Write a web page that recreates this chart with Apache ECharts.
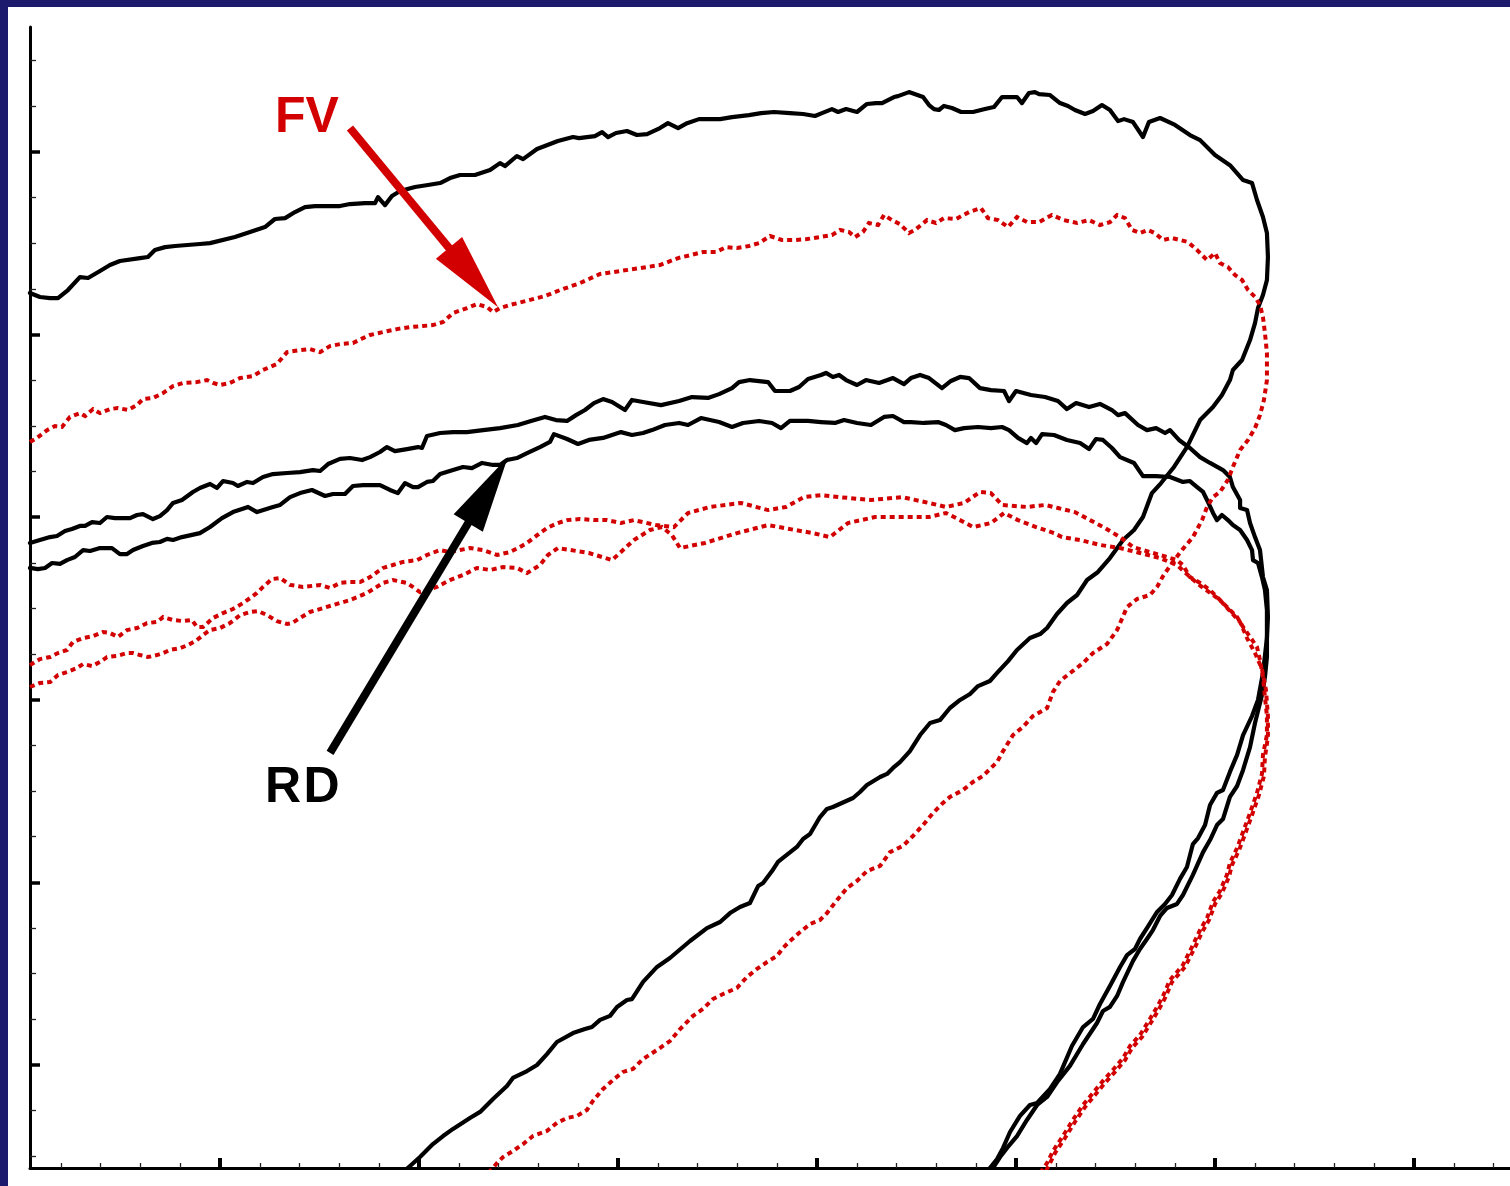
<!DOCTYPE html>
<html>
<head>
<meta charset="utf-8">
<script src="https://cdn.jsdelivr.net/npm/echarts@6/dist/echarts.min.js"></script>
<style>
  html, body { margin: 0; padding: 0; width: 1510px; height: 1186px; background: #1b1a6c; overflow: hidden; }
  #chart { position: absolute; left: 8px; top: 7px; width: 1540px; height: 1179px; background: #ffffff; }
</style>
</head>
<body>
<div id="chart"></div>
<script>
// ---- axis ticks (no labels in the original) ----
const xMajorTicks = [10, 20, 30, 40, 50, 60, 70];
const xMinorTicks = [2, 4, 6, 8, 12, 14, 16, 18, 22, 24, 26, 28, 32, 34, 36, 38, 42, 44, 46, 48, 52, 54, 56, 58, 62, 64, 66, 68, 72, 74];
const yMajorTicks = [10, 20, 30, 40, 50, 60];
const yMinorTicks = [5, 7.5, 12.5, 15, 17.5, 22.5, 25, 27.5, 32.5, 35, 37.5, 42.5, 45, 47.5, 52.5, 55, 57.5, 62.5, 65];
const xRange = [0.4523, 75.829];
const yRange = [4.359, 66.845];

// ---- RD (black, solid) curves ----
const rdOuter = [[0.45,52.28],[0.95,52.06],[1.46,52.00],[1.86,52.00],[2.36,52.44],[2.96,53.15],[3.37,53.10],[3.97,53.48],[4.47,53.81],[4.97,54.03],[5.98,54.19],[6.38,54.25],[6.73,54.63],[7.24,54.79],[7.74,54.85],[8.99,54.96],[9.50,55.01],[10.75,55.34],[11.51,55.62],[12.26,55.89],[12.76,56.33],[13.27,56.38],[13.77,56.71],[14.27,56.98],[14.77,57.04],[15.53,57.04],[16.03,57.04],[16.53,57.15],[17.29,57.20],[17.79,57.20],[17.94,57.53],[18.29,57.09],[18.64,57.59],[19.05,57.86],[19.80,58.08],[20.45,58.19],[21.06,58.30],[21.56,58.57],[22.06,58.74],[22.81,58.74],[23.57,59.01],[24.07,59.39],[24.32,59.23],[24.92,59.78],[25.23,59.61],[25.93,60.16],[26.98,60.60],[27.74,60.82],[28.04,60.76],[28.84,60.87],[29.20,61.09],[29.50,60.82],[29.90,61.04],[30.45,61.15],[30.95,60.93],[31.46,60.98],[32.11,61.31],[32.51,61.58],[33.02,61.31],[33.47,61.58],[34.07,61.80],[35.13,61.80],[35.73,61.91],[36.58,62.02],[37.19,62.13],[37.84,62.19],[38.64,62.13],[39.30,62.08],[39.90,61.97],[40.25,62.13],[40.75,62.35],[41.06,62.19],[41.46,62.35],[42.01,62.19],[42.51,62.63],[42.96,62.68],[43.27,62.68],[43.87,63.01],[44.07,63.06],[44.62,63.28],[45.33,63.01],[45.63,62.57],[45.88,62.35],[46.13,62.30],[46.38,62.52],[46.78,62.41],[47.24,62.19],[47.84,62.19],[48.44,62.35],[48.89,62.46],[49.30,63.01],[50.05,63.01],[50.30,62.68],[50.65,63.23],[50.95,63.28],[51.16,63.17],[51.71,63.12],[52.21,62.68],[52.61,62.52],[52.96,62.30],[53.47,62.08],[53.87,62.24],[54.32,62.57],[54.72,62.30],[55.13,61.69],[55.43,61.80],[55.88,61.64],[56.38,60.82],[56.68,61.64],[57.24,61.86],[57.99,61.48],[58.74,60.93],[59.25,60.65],[60.00,59.83],[60.75,59.28],[61.41,58.46],[61.86,58.30],[62.11,57.37],[62.41,56.44],[62.61,55.56],[62.66,54.25],[62.61,52.99],[62.41,52.17],[62.16,51.45],[62.01,50.63],[61.76,49.70],[61.36,48.61],[60.90,48.06],[60.75,47.51],[60.35,46.69],[59.90,46.03],[59.25,45.32],[58.59,43.84],[57.94,42.75],[57.29,41.87],[56.83,41.32],[56.38,40.01],[55.93,39.30],[55.38,38.75],[54.72,37.76],[54.12,37.00],[53.57,36.56],[53.07,35.74],[52.56,35.30],[52.06,34.70],[51.56,33.93],[51.21,33.60],[50.70,33.38],[50.05,32.73],[49.60,32.12],[49.05,31.47],[48.69,31.03],[48.09,30.75],[47.69,30.32],[47.19,29.99],[46.68,29.55],[46.18,28.89],[45.68,28.73],[45.18,28.07],[44.67,27.19],[44.17,26.59],[43.82,26.27],[43.52,25.94],[43.17,25.77],[42.51,25.33],[42.16,24.95],[41.81,24.62],[40.80,24.13],[40.50,24.02],[40.15,23.58],[39.65,22.65],[39.30,22.38],[38.99,21.94],[38.29,21.34],[38.04,21.12],[37.74,20.62],[37.29,19.97],[37.04,19.80],[36.63,18.87],[36.13,18.65],[35.63,18.32],[35.13,17.83],[34.47,17.50],[33.62,16.79],[32.61,15.86],[31.96,15.37],[31.26,14.55],[30.70,13.61],[30.45,13.56],[29.95,13.18],[29.60,12.69],[29.10,12.47],[28.69,12.08],[28.34,11.97],[27.74,11.75],[26.93,11.26],[26.43,10.60],[25.93,10.00],[25.43,9.67],[24.72,9.29],[24.42,8.85],[23.72,8.14],[23.07,7.43],[22.56,7.10],[21.71,6.50],[21.21,6.11],[20.70,5.67],[20.05,4.96],[19.55,4.47],[19.20,4.14]];

const rdMidUpper = [[0.45,38.59],[0.95,38.75],[1.46,38.91],[1.81,38.97],[2.21,39.24],[2.56,39.35],[2.96,39.52],[3.22,39.52],[3.57,39.73],[3.97,39.68],[4.32,40.01],[4.72,39.95],[5.48,39.95],[5.83,40.12],[6.13,40.17],[6.63,39.90],[6.98,40.06],[7.34,40.39],[7.64,40.78],[8.09,40.94],[8.64,41.38],[8.99,41.60],[9.50,41.82],[9.85,41.60],[10.15,41.98],[10.65,41.87],[10.90,41.71],[11.36,41.93],[11.66,41.87],[12.16,42.20],[12.66,42.36],[13.37,42.42],[14.02,42.47],[14.67,42.58],[15.03,42.53],[15.43,42.91],[16.03,43.19],[16.53,43.24],[17.14,43.13],[17.54,43.29],[18.04,43.57],[18.39,43.84],[18.79,43.62],[19.40,43.73],[19.95,43.84],[20.15,43.79],[20.40,44.45],[21.06,44.61],[21.71,44.66],[22.41,44.66],[23.22,44.77],[24.07,44.88],[24.97,45.05],[25.63,45.27],[26.33,45.49],[26.88,45.32],[27.44,45.27],[27.89,45.59],[28.34,45.87],[28.79,46.25],[29.25,46.47],[29.70,46.31],[30.35,45.87],[30.70,46.42],[31.26,46.31],[32.16,46.14],[33.07,46.36],[33.72,46.58],[34.52,46.53],[35.08,46.74],[35.73,47.07],[36.08,47.40],[36.63,47.51],[37.54,47.40],[37.89,46.91],[38.64,46.91],[39.10,47.13],[39.55,47.57],[40.20,47.79],[40.45,47.90],[40.80,47.68],[41.11,47.79],[41.46,47.51],[42.01,47.24],[42.46,47.51],[43.12,47.35],[43.82,47.62],[44.37,47.29],[44.72,47.62],[45.18,47.79],[45.63,47.62],[46.28,47.07],[46.73,47.46],[47.19,47.68],[47.64,47.62],[48.19,47.07],[48.74,46.96],[49.40,46.91],[49.65,46.36],[50.00,46.91],[50.75,46.69],[51.46,46.58],[52.11,46.36],[52.56,45.92],[53.02,46.25],[53.67,46.03],[54.22,46.20],[54.82,45.87],[55.13,45.59],[55.48,45.70],[56.13,45.05],[56.58,44.77],[57.04,44.88],[57.49,44.61],[57.74,44.77],[58.19,44.23],[58.74,43.79],[59.25,43.29],[59.75,42.97],[60.40,42.58],[60.75,42.20],[60.90,41.65],[61.26,40.94],[61.26,40.50],[61.61,40.39],[61.76,39.68],[62.01,38.91],[62.26,38.20],[62.41,36.72],[62.61,36.01],[62.66,34.53],[62.61,33.38],[62.41,31.47],[62.16,29.99],[61.86,29.11],[61.41,28.07],[61.11,26.98],[60.75,26.05],[60.40,25.06],[60.10,24.90],[59.75,24.24],[59.50,23.14],[59.15,22.43],[58.89,22.10],[58.59,20.84],[58.24,20.19],[57.84,19.31],[57.49,18.82],[57.09,18.38],[56.58,17.50],[56.23,16.90],[55.98,16.35],[55.58,16.02],[55.23,15.37],[54.72,14.33],[54.22,13.34],[53.87,12.52],[53.37,12.08],[52.81,11.04],[52.21,9.51],[51.71,8.69],[51.06,7.92],[50.70,7.81],[50.20,7.21],[49.70,6.33],[49.35,5.46],[49.05,4.85],[48.69,4.36],[48.49,4.09]];

const rdMidLower = [[0.45,37.22],[0.85,37.16],[1.21,37.22],[1.56,37.49],[1.96,37.44],[2.31,37.65],[2.71,37.82],[3.12,38.20],[3.47,38.15],[3.97,38.31],[4.57,38.31],[4.97,37.98],[5.33,37.98],[5.63,38.20],[6.13,38.42],[6.58,38.59],[6.98,38.64],[7.34,38.81],[7.64,38.75],[8.09,38.91],[8.99,39.13],[9.50,39.46],[10.10,39.95],[10.65,40.28],[11.41,40.56],[11.86,40.28],[12.66,40.56],[13.02,40.67],[13.52,41.10],[14.02,41.32],[14.62,41.49],[15.28,41.16],[15.68,41.27],[16.28,41.27],[16.68,41.71],[17.19,41.76],[18.04,41.76],[18.54,41.49],[18.94,41.32],[19.30,41.87],[19.70,41.65],[19.95,41.65],[20.40,41.93],[20.70,41.98],[21.06,42.36],[21.71,42.58],[22.21,42.75],[22.66,42.69],[23.17,42.97],[23.72,42.86],[24.07,42.86],[24.42,43.13],[24.92,43.24],[25.43,43.51],[26.08,43.84],[26.58,44.12],[26.78,44.55],[27.44,44.28],[27.99,44.01],[28.54,44.23],[29.25,44.34],[29.70,44.50],[30.15,44.66],[30.70,44.50],[31.26,44.61],[31.71,44.77],[32.36,45.05],[33.07,45.16],[33.52,45.05],[34.17,45.43],[35.08,45.21],[35.73,44.94],[36.28,45.16],[37.09,45.27],[37.74,45.16],[38.19,44.88],[38.64,45.27],[39.55,45.27],[40.20,45.21],[40.90,45.16],[41.36,45.32],[42.01,45.16],[42.71,45.05],[43.37,45.49],[43.82,45.54],[44.37,45.21],[44.72,45.21],[45.38,45.16],[46.08,45.21],[46.48,45.05],[46.93,44.77],[47.39,44.88],[48.09,44.94],[48.74,44.88],[49.30,44.94],[49.65,44.77],[50.10,44.34],[50.55,44.06],[50.75,44.34],[51.01,44.06],[51.31,44.55],[51.91,44.50],[52.56,44.23],[53.22,44.06],[53.67,43.73],[54.02,44.28],[54.37,44.23],[54.82,43.79],[55.23,43.29],[55.93,42.97],[56.38,42.25],[57.04,42.25],[57.74,42.20],[58.39,41.93],[58.74,41.98],[59.10,41.65],[59.40,41.38],[59.65,40.83],[59.90,40.23],[60.10,39.84],[60.35,40.12],[60.65,39.84],[60.90,39.57],[61.26,39.30],[61.61,38.75],[61.86,38.20],[61.91,37.65],[62.16,37.49],[62.36,36.72],[62.51,36.01],[62.61,34.92],[62.61,33.66],[62.61,32.34],[62.51,31.25],[62.36,30.26],[62.01,28.73],[61.76,27.41],[61.41,26.16],[61.11,25.28],[60.75,24.68],[60.40,23.47],[60.10,23.14],[59.75,22.32],[59.40,21.66],[58.89,20.41],[58.39,19.31],[58.09,18.82],[57.59,18.60],[57.24,18.16],[56.88,17.39],[56.58,16.90],[56.23,16.35],[55.88,15.70],[55.38,14.55],[55.08,13.78],[54.72,13.18],[54.37,12.96],[54.07,12.30],[53.37,11.15],[52.71,9.95],[52.11,9.13],[51.56,8.25],[51.06,7.81],[50.55,6.99],[50.05,6.11],[49.55,5.46],[49.20,4.96],[48.84,4.36],[48.64,4.09]];

// ---- FV (red, dotted) curves ----
const fvOuter = [[0.45,44.12],[0.80,44.34],[1.31,44.77],[1.71,44.99],[2.06,44.94],[2.46,45.49],[2.96,45.70],[3.22,45.54],[3.62,45.92],[3.97,45.70],[4.47,45.92],[4.87,45.98],[5.38,45.87],[5.83,46.14],[6.13,46.47],[6.63,46.53],[7.14,46.80],[7.64,47.18],[8.14,47.35],[8.84,47.40],[9.35,47.51],[9.65,47.35],[10.00,47.24],[10.50,47.35],[11.01,47.62],[11.66,47.73],[12.16,48.06],[12.86,48.39],[13.37,49.04],[14.02,49.15],[14.52,49.21],[15.03,49.04],[15.53,49.37],[16.03,49.48],[16.68,49.54],[17.19,49.81],[17.54,49.98],[18.19,50.14],[18.89,50.30],[19.55,50.41],[20.20,50.47],[20.70,50.52],[21.21,50.69],[21.71,51.18],[22.41,51.45],[22.91,51.67],[23.42,51.51],[23.72,51.23],[24.07,51.45],[24.57,51.62],[25.58,51.90],[26.33,52.11],[27.09,52.44],[28.09,52.82],[29.10,53.32],[30.10,53.48],[31.11,53.64],[32.11,53.81],[33.02,54.19],[33.67,54.36],[34.27,54.52],[34.92,54.52],[35.43,54.79],[35.98,54.74],[36.58,54.85],[37.09,55.01],[37.64,55.40],[38.24,55.18],[38.89,55.18],[39.50,55.23],[40.15,55.34],[40.75,55.45],[41.16,55.73],[41.61,55.62],[41.91,55.34],[42.31,55.62],[42.61,56.11],[43.07,56.00],[43.37,56.55],[43.77,56.27],[44.17,56.05],[44.62,55.56],[44.92,55.73],[45.53,56.27],[45.98,56.11],[46.38,56.38],[46.98,56.33],[47.64,56.71],[48.24,56.93],[48.59,56.38],[49.10,56.27],[49.60,55.89],[50.05,56.44],[50.55,56.16],[51.16,56.16],[51.81,56.55],[52.41,56.27],[53.07,56.11],[53.67,56.27],[54.22,56.00],[54.72,56.16],[55.08,56.55],[55.48,56.38],[55.83,55.73],[56.23,55.56],[56.63,55.73],[56.98,55.56],[57.39,55.18],[57.84,55.29],[58.24,55.18],[58.64,55.07],[59.10,54.63],[59.60,54.08],[60.00,54.47],[60.25,53.92],[60.65,53.70],[61.01,53.26],[61.36,52.99],[61.66,52.44],[62.01,52.06],[62.26,51.62],[62.41,50.96],[62.51,50.09],[62.61,48.99],[62.61,47.51],[62.46,46.42],[62.26,45.59],[62.01,44.88],[61.66,44.23],[61.26,43.68],[60.90,42.75],[60.65,42.04],[60.25,41.38],[59.90,41.10],[59.60,40.56],[59.35,39.84],[58.89,38.91],[58.34,38.20],[57.84,37.49],[57.39,36.78],[57.09,36.18],[56.73,35.74],[56.08,35.52],[55.58,35.08],[55.08,33.82],[54.57,33.05],[53.87,32.56],[53.37,32.01],[52.86,31.58],[52.21,31.03],[51.86,30.43],[51.56,29.55],[50.85,29.11],[50.35,28.51],[49.85,28.07],[49.35,27.19],[49.05,26.59],[48.34,25.83],[47.84,25.50],[47.34,25.06],[46.68,24.68],[46.33,24.35],[45.83,23.80],[45.33,23.14],[44.82,22.54],[44.32,22.00],[43.67,21.66],[43.17,20.90],[42.51,20.62],[42.01,20.08],[41.51,19.69],[41.01,19.04],[40.50,18.32],[40.15,17.94],[39.65,17.72],[39.15,17.28],[38.64,16.79],[38.29,16.41],[37.99,15.97],[37.49,15.64],[36.98,15.26],[36.48,14.82],[35.98,14.22],[35.28,13.89],[34.77,13.61],[34.27,13.07],[33.77,12.69],[33.12,11.97],[32.61,11.31],[31.96,10.82],[31.26,10.33],[30.75,9.78],[30.25,9.62],[29.75,9.18],[29.25,8.69],[28.74,8.03],[28.44,7.54],[27.94,7.21],[27.44,7.10],[26.93,6.83],[26.43,6.39],[25.73,6.11],[25.23,5.67],[24.72,5.29],[24.22,4.96],[23.92,4.63],[23.67,4.30],[23.47,4.09]];

const fvMidUpper = [[0.45,31.90],[0.95,32.23],[1.46,32.34],[1.86,32.56],[2.31,32.73],[2.61,33.16],[3.12,33.38],[3.62,33.49],[4.12,33.71],[4.47,33.66],[4.87,33.44],[5.33,33.82],[5.83,33.93],[6.33,34.20],[6.83,34.26],[7.14,34.53],[7.64,34.37],[8.14,34.31],[8.59,34.37],[8.84,33.99],[9.15,33.99],[9.65,34.48],[10.15,34.75],[10.65,34.97],[11.16,35.30],[11.51,35.57],[11.86,35.85],[12.16,36.18],[12.61,36.61],[13.02,36.67],[13.52,36.29],[14.17,36.18],[15.03,36.29],[15.53,36.12],[16.03,36.40],[16.53,36.45],[17.04,36.45],[17.54,36.72],[18.19,37.22],[18.69,37.38],[19.20,37.55],[19.90,37.65],[20.40,37.93],[21.06,38.20],[21.56,38.09],[22.06,38.20],[22.56,38.31],[23.22,38.20],[23.92,37.93],[24.57,38.09],[24.97,38.31],[25.43,38.59],[26.08,39.13],[26.43,39.41],[26.98,39.68],[27.44,39.84],[28.09,39.90],[28.79,39.84],[29.45,39.84],[30.15,39.68],[30.80,39.84],[31.91,39.57],[32.81,39.46],[33.52,40.23],[34.62,40.56],[36.18,40.78],[37.54,40.39],[38.44,40.56],[39.35,41.10],[40.20,41.21],[41.11,41.10],[42.71,40.94],[44.27,41.10],[45.63,40.78],[46.48,40.56],[47.39,40.78],[48.19,41.38],[48.74,41.32],[49.30,40.67],[50.55,40.56],[51.46,40.67],[52.11,40.50],[52.96,40.28],[53.72,39.84],[54.47,39.41],[55.23,38.91],[55.88,38.37],[56.38,38.20],[56.88,38.04],[57.59,37.82],[58.09,37.65],[58.39,37.38],[58.74,36.72],[59.25,36.40],[59.75,36.01],[60.10,35.63],[60.60,35.08],[61.11,34.53],[61.41,33.99],[61.76,33.44],[62.11,32.89],[62.26,32.18],[62.41,31.25],[62.51,30.15],[62.61,29.11],[62.61,28.07],[62.41,26.98],[62.36,25.94],[62.11,24.90],[61.76,23.80],[61.41,22.76],[61.11,21.88],[60.75,21.06],[60.60,20.41],[60.25,19.53],[59.90,18.93],[59.60,18.05],[59.25,17.39],[58.89,16.57],[58.39,15.48],[58.09,15.09],[57.74,14.66],[57.39,13.78],[57.09,13.18],[56.73,12.52],[56.23,11.64],[55.73,11.04],[55.38,10.38],[54.87,9.73],[54.37,9.13],[53.87,8.47],[53.37,7.81],[52.86,6.99],[52.36,6.11],[51.86,5.29],[51.56,4.63],[51.36,4.30],[51.21,4.09]];

const fvMidLower = [[0.45,30.70],[0.95,30.92],[1.46,30.97],[1.86,31.36],[2.31,31.52],[2.81,31.74],[3.12,31.96],[3.57,31.85],[3.97,32.07],[4.32,32.34],[4.82,32.40],[5.33,32.56],[5.63,32.56],[5.98,32.45],[6.38,32.34],[6.83,32.45],[7.14,32.56],[7.49,32.73],[7.99,32.83],[8.39,33.00],[8.84,33.27],[9.15,33.55],[9.50,33.82],[10.00,33.93],[10.50,34.20],[11.01,34.64],[11.51,34.81],[11.91,34.86],[12.36,34.64],[12.86,34.31],[13.37,34.15],[13.62,34.20],[14.02,34.48],[14.52,34.81],[14.87,34.92],[15.68,35.19],[16.53,35.46],[17.39,35.85],[18.19,36.40],[18.69,36.56],[19.40,36.40],[20.05,35.90],[20.90,36.18],[21.56,36.56],[22.21,36.83],[22.91,37.22],[23.57,37.11],[24.22,37.27],[24.92,37.22],[25.43,36.94],[26.08,37.38],[26.48,37.93],[26.98,38.31],[28.54,38.04],[29.70,37.65],[30.80,38.75],[31.61,39.30],[32.21,39.46],[32.71,39.02],[33.12,38.31],[34.37,38.59],[35.98,39.13],[37.54,39.57],[38.89,39.30],[39.80,39.13],[40.65,38.91],[41.56,39.68],[42.91,40.01],[44.27,40.01],[45.63,40.01],[46.48,40.23],[47.19,39.84],[47.84,39.46],[48.74,39.68],[49.40,40.23],[50.10,39.84],[51.01,39.46],[51.91,39.13],[52.31,38.91],[53.22,38.75],[54.22,38.48],[55.23,38.31],[56.23,38.04],[57.24,37.76],[58.09,37.38],[58.64,36.83],[59.15,36.34],[59.70,35.90],[60.25,35.46],[60.75,34.86],[61.26,34.26],[61.61,33.38],[62.01,32.56],[62.36,31.69],[62.56,30.54],[62.66,29.11],[62.66,27.96],[62.51,26.87],[62.46,25.83],[62.21,24.79],[61.86,23.69],[61.51,22.65],[61.21,21.77],[60.85,20.95],[60.70,20.30],[60.35,19.42],[60.00,18.82],[59.70,17.94],[59.35,17.28],[59.00,16.46],[58.49,15.37],[58.19,14.99],[57.84,14.55],[57.49,13.67],[57.19,13.07],[56.83,12.41],[56.33,11.53],[55.83,10.93],[55.48,10.27],[54.97,9.62],[54.47,9.02],[53.97,8.36],[53.47,7.70],[52.96,6.88],[52.46,6.00],[51.96,5.18],[51.66,4.52],[51.46,4.09]];

// ---- annotations: [tail, head] in data units, label anchors ----
const fvArrow = [[16.53, 61.31], [22.74, 53.12]];
const rdArrow = [[15.53, 27.09], [23.47, 41.49]];
const fvLabelText = ['FV'];
const fvLabelPos = [[14.37, 61.83]];
const rdLabelText = ['R', 'D'];
const rdLabelPos = [[13.17, 25.14], [15.10, 25.14]];

const RED = '#d20000';
const BLACK = '#000000';
const FONT = '"Liberation Sans", Arial, sans-serif';

function blackSeries(name, data, extra) {
  return Object.assign({
    name: name, type: 'line', xAxisIndex: 0, yAxisIndex: 0, data: data,
    showSymbol: false, symbol: 'none', smooth: false, clip: true, silent: true,
    lineStyle: { color: BLACK, width: 4.2, join: 'round', cap: 'round' },
    z: 3
  }, extra || {});
}
function redSeries(name, data, extra) {
  return Object.assign({
    name: name, type: 'line', xAxisIndex: 0, yAxisIndex: 0, data: data,
    showSymbol: false, symbol: 'none', smooth: false, clip: true, silent: true,
    lineStyle: { color: RED, width: 4, type: [5, 4], join: 'miter' },
    z: 4
  }, extra || {});
}
function arrowMark(pts, color) {
  return {
    silent: true, animation: false,
    symbol: ['none', 'triangle'], symbolSize: [34, 77],
    label: { show: false },
    lineStyle: { color: color, width: 8, type: 'solid', opacity: 1 },
    emphasis: { disabled: true },
    data: [[{ coord: pts[0] }, { coord: pts[1] }]]
  };
}
function textMark(texts, positions, color) {
  return {
    silent: true, animation: false,
    symbol: 'circle', symbolSize: 1,
    itemStyle: { color: 'rgba(0,0,0,0)' },
    label: { show: true, position: 'inside', formatter: function (p) { return p.name; }, color: color,
             fontSize: 50, fontWeight: 'bold', fontFamily: FONT },
    emphasis: { disabled: true },
    data: texts.map(function (t, i) { return { name: t, coord: positions[i] }; })
  };
}

const chart = echarts.init(document.getElementById('chart'), null, { renderer: 'canvas' });
const baseAxis = {
  type: 'value', scale: true,
  splitLine: { show: false }, axisLabel: { show: false }
};
chart.setOption({
  animation: false,
  backgroundColor: '#ffffff',
  grid: { left: 22, top: 20, width: 1500, height: 1141, containLabel: false },
  xAxis: [
    Object.assign({}, baseAxis, {
      min: xRange[0], max: xRange[1], position: 'bottom',
      axisLine: { show: true, onZero: false, lineStyle: { color: BLACK, width: 3 } },
      axisTick: { show: true, inside: true, length: 10, customValues: xMajorTicks, lineStyle: { color: BLACK, width: 4 } }
    }),
    Object.assign({}, baseAxis, {
      min: xRange[0], max: xRange[1], position: 'bottom',
      axisLine: { show: false },
      axisTick: { show: true, inside: true, length: 5, customValues: xMinorTicks, lineStyle: { color: '#222', width: 1.3 } }
    })
  ],
  yAxis: [
    Object.assign({}, baseAxis, {
      min: yRange[0], max: yRange[1], position: 'left',
      axisLine: { show: true, onZero: false, lineStyle: { color: BLACK, width: 3 } },
      axisTick: { show: true, inside: true, length: 10, customValues: yMajorTicks, lineStyle: { color: BLACK, width: 3.5 } }
    }),
    Object.assign({}, baseAxis, {
      min: yRange[0], max: yRange[1], position: 'left',
      axisLine: { show: false },
      axisTick: { show: true, inside: true, length: 6, customValues: yMinorTicks, lineStyle: { color: '#222', width: 1.3 } }
    })
  ],
  series: [
    blackSeries('RD outer', rdOuter),
    blackSeries('RD mid upper', rdMidUpper),
    blackSeries('RD mid lower', rdMidLower, { markLine: arrowMark(rdArrow, BLACK), markPoint: textMark(rdLabelText, rdLabelPos, BLACK) }),
    redSeries('FV outer', fvOuter, { markLine: arrowMark(fvArrow, RED), markPoint: textMark(fvLabelText, fvLabelPos, RED) }),
    redSeries('FV mid upper', fvMidUpper),
    redSeries('FV mid lower', fvMidLower)
  ]
});
</script>
</body>
</html>
